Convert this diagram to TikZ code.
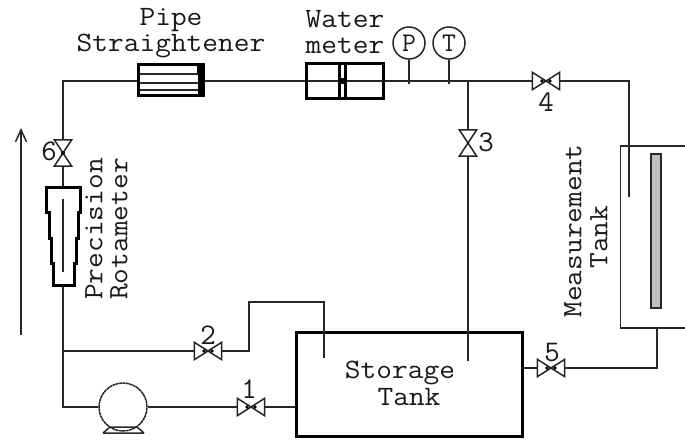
\documentclass[tikz,border=0pt]{standalone}
\usepackage{graphicx}
\usetikzlibrary{arrows.meta}
\newcommand{\wdt}[1]{\scalebox{1.09}[1]{#1}}
\tikzset{
  x=1pt,y=-1pt,
  pipe/.style={line width=1.5pt,draw=black!85},
  thick box/.style={draw=black,line width=3pt,inner sep=0pt,fill=white},
  label text/.style={font=\ttfamily\fontsize{28}{28}\selectfont,text=black!90,inner sep=0pt,align=center},
  small num/.style={font=\ttfamily\fontsize{30}{30}\selectfont,text=black!90,inner sep=0pt},
  hvalve/.style={inner sep=0pt,minimum width=27pt,minimum height=17pt},
  vvalve/.style={inner sep=0pt,minimum width=17pt,minimum height=26pt},
  gauge/.style={circle,draw=black!85,line width=1.5pt,minimum size=32pt,inner sep=0pt,font=\ttfamily\fontsize{27}{27}\selectfont,text=black!90},
}
\newcommand{\hval}[1]{%
  \draw[pipe,fill=white,line join=miter] (#1.north west)--(#1.south west)--(#1.center)--cycle;
  \draw[pipe,fill=white] (#1.north east)--(#1.south east)--(#1.center)--cycle;
  \fill[black] (#1.center)+(-4,0) circle (1.8pt);
  \fill[black] (#1.center)+(4,0) circle (1.8pt);}
\newcommand{\vval}[1]{%
  \draw[pipe,fill=white] (#1.north west)--(#1.north east)--(#1.center)--cycle;
  \draw[pipe,fill=white] (#1.south west)--(#1.south east)--(#1.center)--cycle;}
\begin{document}
\begin{tikzpicture}
\useasboundingbox (0,0) rectangle (685,439);
% measurement tank
\draw[pipe] (685,146)--(620.5,146)--(620.5,328)--(685,328);
\draw[pipe,fill=black!25] (651,154) rectangle (661,308);
% boxes
\node[thick box,minimum width=65pt,minimum height=31pt] (ps) at (171,80) {};
\node[thick box,minimum width=77pt,minimum height=35pt] (wm) at (345,81) {};
\node[thick box,minimum width=226pt,minimum height=104pt] (st) at (409,384) {};
% valves
\node[hvalve] (v1) at (251,407) {};
\node[hvalve] (v2) at (208,351) {};
\node[vvalve] (v3) at (468,143) {};
\node[hvalve] (v4) at (546,81) {};
\node[hvalve] (v5) at (551,368) {};
\node[vvalve] (v6) at (63,153) {};
\node[gauge] (gp) at (409,43) {P};
\node[gauge] (gt) at (449,43) {T};
\node[circle,draw=black!85,line width=1.5pt,minimum size=48pt,inner sep=0pt,dash pattern=on 3pt off 0.5pt] (pump) at (123,407) {};
\coordinate (rtop) at (63,186);
\coordinate (rbot) at (63,286);
% coordinates
\coordinate (tl) at (63,81);
\coordinate (jn) at (468,81);
\coordinate (tr) at (629,81);
\coordinate (mtin) at (629,197);
\coordinate (st3) at (468,361);
\coordinate (brL) at (63,351);
\coordinate (brA) at (249,351);
\coordinate (brB) at (249,302);
\coordinate (brC) at (324,302);
\coordinate (brD) at (324,358);
\coordinate (bl) at (63,407);
\coordinate (mtb) at (657,328);
\coordinate (mtc) at (657,368);
\coordinate (gpb) at (409,84);
\coordinate (gtb) at (449,84);
% pipes
\draw[pipe] (rtop)--(v6.south);
\draw[pipe] (v6.north)--(tl)--(ps.west |- tl);
\draw[pipe] (ps.east |- tl)--(wm.west);
\draw[pipe] (wm.east)--(jn)--(v4.west);
\draw[pipe] (v4.east)--(tr)--(mtin);
\draw[pipe] (jn)--(v3.north);
\draw[pipe] (v3.south)--(st3);
\draw[pipe] (gp.south)--(gpb);
\draw[pipe] (gt.south)--(gtb);
\draw[pipe] (rbot)--(bl)--(pump.west);
\draw[pipe] (pump.east)--(v1.west);
\draw[pipe] (v1.east)--(st.west |- v1);
\draw[pipe] (brL)--(v2.west);
\draw[pipe] (v2.east)--(brA)--(brB)--(brC)--(brD);
\draw[pipe] (st.east |- v5)--(v5.west);
\draw[pipe] (v5.east)--(mtc)--(mtb);
% symbols
\hval{v1}\hval{v2}\hval{v4}\hval{v5}
\vval{v3}\vval{v6}
\fill[black] (v3.center) circle (1pt);
\fill[black] (v6.center) circle (2pt);
% pipe straightener inside
\foreach \yy in {74,83,90}{\draw[pipe] (140,\yy)--(198,\yy);}
\fill[black] (197,66) rectangle (203,73);
\fill[black] (198,66) rectangle (203,95);
% water meter inside
\draw[pipe] (307,81)--(383,81);
\fill[black] (338,65) rectangle (340.5,98);
\fill[black] (344,65) rectangle (346.5,98);
\fill[black] (340,78) rectangle (345,84);
% rotameter
\draw[line width=3pt,line join=miter,fill=white] (46.5,212)--(46.5,187.5)--(80.5,187.5)--(80.5,212)--(78.5,212)--(78.5,238)--(76.5,238)--(76.5,263)--(74,263)--(74,285)--(53,285)--(53,263)--(51,263)--(51,238)--(49,238)--(49,212)--cycle;
\draw[pipe] (63,199)--(63,272);
% pump base
\draw[pipe] (103,433)--(144,433) (103,433)--(110,427)--(137,427)--(144,433);
% flow arrow
\coordinate (aS) at (21,335);
\coordinate (aE) at (21,128);
\draw[pipe,-{Straight Barb[length=12pt,width=11pt]}] (aS)--(aE);
% labels
\node[label text] (t1) at (171,20) {\wdt{Pipe}};
\node[label text] (t2) at (171,46) {\wdt{Straightener}};
\node[label text] (t3) at (345,19) {\wdt{Water}};
\node[label text] (t4) at (345,46) {\wdt{meter}};
\node[label text,rotate=90] (t5) at (94,229) {\wdt{Precision}};
\node[label text,rotate=90] (t6) at (119,229) {\wdt{Rotameter}};
\node[label text,rotate=90] (t7) at (573,231) {\wdt{Measurement}};
\node[label text,rotate=90] (t8) at (599,237) {\wdt{Tank}};
\node[label text] (t9) at (400,373) {\wdt{Storage}};
\node[label text] (t10) at (409,397) {\wdt{Tank}};
\node[small num] (n1) at (249,389) {1};
\node[small num] (n2) at (208,335) {2};
\node[small num] (n3) at (486,142) {3};
\node[small num] (n4) at (546,102) {4};
\node[small num] (n5) at (552,353) {5};
\node[small num] (n6) at (49,151) {6};
\end{tikzpicture}
\end{document}
